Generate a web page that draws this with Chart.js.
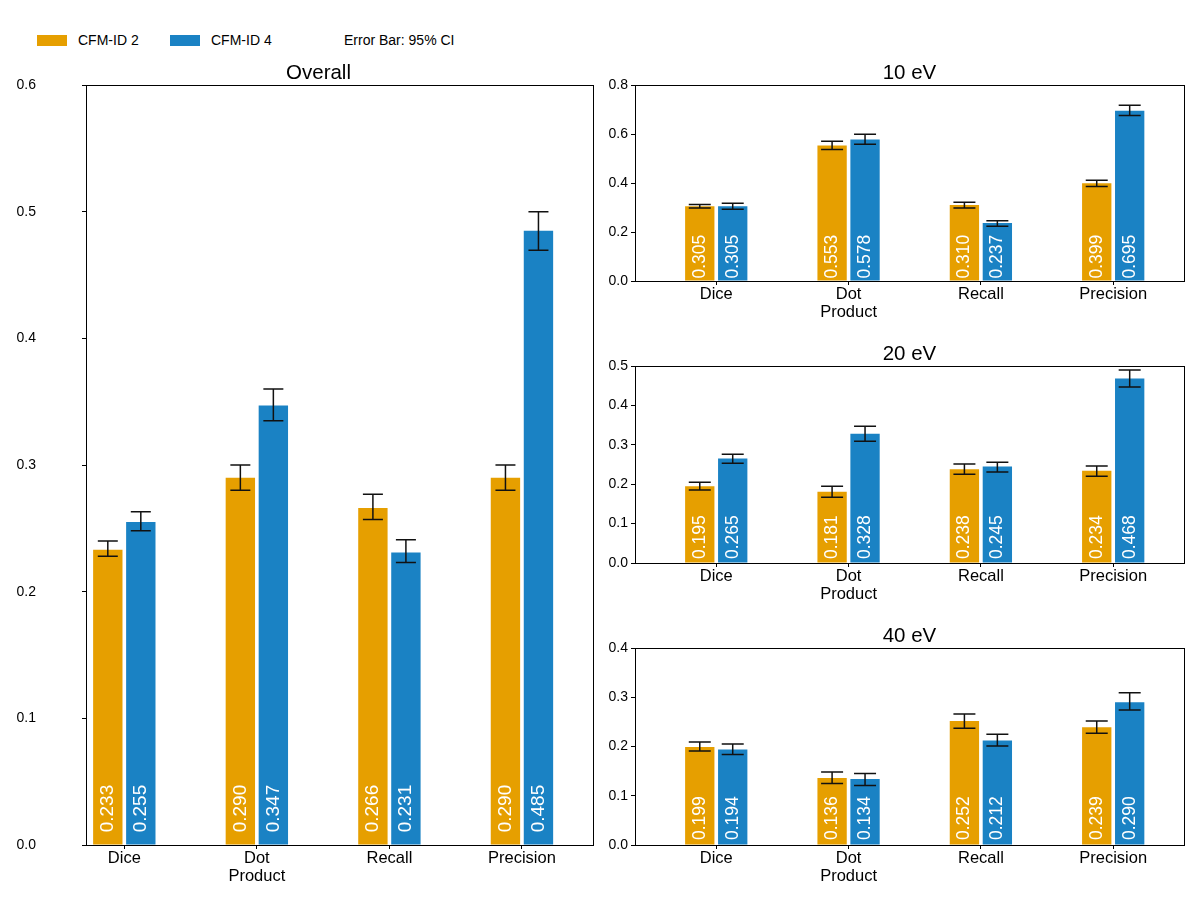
<!DOCTYPE html>
<html>
<head>
<meta charset="utf-8">
<script src="https://cdn.jsdelivr.net/npm/chart.js@4.4.1/dist/chart.umd.min.js"></script>
<style>
  html, body { margin: 0; padding: 0; background: #fff; }
  #wrap { position: relative; width: 1200px; height: 900px; overflow: hidden; font-family: "Liberation Sans", Arial, sans-serif; }
  canvas { position: absolute; }
  .lbox { position: absolute; width: 30px; height: 11px; }
  .ltxt { position: absolute; font-size: 14px; line-height: 16px; color: #000; white-space: nowrap; }
</style>
</head>
<body>
<div id="wrap">
  <div class="lbox" style="left:37px; top:35px; background:#E69F00;"></div>
  <div class="ltxt" style="left:78px; top:32px;">CFM-ID 2</div>
  <div class="lbox" style="left:170px; top:35px; background:#1A82C4;"></div>
  <div class="ltxt" style="left:211px; top:32px;">CFM-ID 4</div>
  <div class="ltxt" style="left:344px; top:32px;">Error Bar: 95% CI</div>
  <canvas id="cOverall" width="600" height="900" style="left:0px; top:0px;"></canvas>
  <canvas id="c10" width="600" height="336" style="left:600px; top:0px;"></canvas>
  <canvas id="c20" width="600" height="337" style="left:600px; top:281px;"></canvas>
  <canvas id="c40" width="600" height="337" style="left:600px; top:563px;"></canvas>
</div>
<script>
// ---- data ----
const categories = ["Dice", "Dot Product", "Recall", "Precision"];
const tickLabels = [["Dice"], ["Dot", "Product"], ["Recall"], ["Precision"]];
const seriesNames = ["CFM-ID 2", "CFM-ID 4"];

const overallCfm2   = [0.233, 0.290, 0.266, 0.290];
const overallCfm2Lo = [0.228, 0.280, 0.257, 0.280];
const overallCfm2Hi = [0.240, 0.300, 0.277, 0.300];
const overallCfm4   = [0.255, 0.347, 0.231, 0.485];
const overallCfm4Lo = [0.248, 0.335, 0.223, 0.4695];
const overallCfm4Hi = [0.263, 0.360, 0.241, 0.500];

const ev10Cfm2   = [0.305, 0.553, 0.310, 0.399];
const ev10Cfm2Lo = [0.298, 0.537, 0.298, 0.386];
const ev10Cfm2Hi = [0.312, 0.570, 0.321, 0.411];
const ev10Cfm4   = [0.305, 0.578, 0.237, 0.695];
const ev10Cfm4Lo = [0.2925, 0.558, 0.223, 0.676];
const ev10Cfm4Hi = [0.317, 0.599, 0.246, 0.717];

const ev20Cfm2   = [0.195, 0.181, 0.238, 0.234];
const ev20Cfm2Lo = [0.185, 0.167, 0.225, 0.220];
const ev20Cfm2Hi = [0.205, 0.195, 0.251, 0.246];
const ev20Cfm4   = [0.265, 0.328, 0.245, 0.468];
const ev20Cfm4Lo = [0.253, 0.309, 0.231, 0.447];
const ev20Cfm4Hi = [0.276, 0.347, 0.256, 0.490];

const ev40Cfm2   = [0.199, 0.136, 0.252, 0.239];
const ev40Cfm2Lo = [0.191, 0.125, 0.237, 0.227];
const ev40Cfm2Hi = [0.209, 0.148, 0.266, 0.252];
const ev40Cfm4   = [0.194, 0.134, 0.212, 0.290];
const ev40Cfm4Lo = [0.184, 0.121, 0.201, 0.274];
const ev40Cfm4Hi = [0.205, 0.145, 0.225, 0.309];

const overallTicks = [0, 0.1, 0.2, 0.3, 0.4, 0.5, 0.6];
const ev10Ticks = [0, 0.2, 0.4, 0.6, 0.8];
const ev20Ticks = [0, 0.1, 0.2, 0.3, 0.4, 0.5];
const ev40Ticks = [0, 0.1, 0.2, 0.3, 0.4];

// ---- styling ----
const COLORS = ["#E69F00", "#1A82C4"];
const FONT = '"Liberation Sans", Arial, sans-serif';
Chart.defaults.color = "#000";
Chart.defaults.font.family = FONT;

const extrasPlugin = {
  id: "extras",
  afterDatasetsDraw(chart) {
    const ctx = chart.ctx;
    const ys = chart.scales.y;
    const o = chart.options.plugins.extras;
    chart.data.datasets.forEach((ds, di) => {
      const meta = chart.getDatasetMeta(di);
      meta.data.forEach((bar, i) => {
        // value label
        ctx.save();
        ctx.translate(bar.x, ys.getPixelForValue(0.01));
        ctx.rotate(-Math.PI / 2);
        ctx.fillStyle = "#fff";
        ctx.font = o.labelSize + "px " + FONT;
        ctx.textAlign = "left";
        ctx.textBaseline = "middle";
        ctx.fillText(ds.data[i].y.toFixed(3), 0, 0);
        ctx.restore();
        // error bar
        const yl = ys.getPixelForValue(ds.errLo[i]);
        const yh = ys.getPixelForValue(ds.errHi[i]);
        ctx.save();
        ctx.strokeStyle = "#111";
        ctx.lineWidth = 1.5;
        ctx.beginPath();
        ctx.moveTo(bar.x, yl); ctx.lineTo(bar.x, yh);
        ctx.moveTo(bar.x - o.cap, yl); ctx.lineTo(bar.x + o.cap, yl);
        ctx.moveTo(bar.x - o.cap, yh); ctx.lineTo(bar.x + o.cap, yh);
        ctx.stroke();
        ctx.restore();
      });
    });
    // frame
    const a = chart.chartArea;
    ctx.save();
    ctx.strokeStyle = "#000";
    ctx.lineWidth = 1;
    const l = Math.floor(a.left) + 0.5, r = Math.floor(a.right) + 0.5;
    const t = Math.floor(a.top) + 0.5, b = Math.floor(a.bottom) + 0.5;
    ctx.strokeRect(l, t, r - l, b - t);
    // title
    ctx.fillStyle = "#000";
    ctx.font = "20.5px " + FONT;
    ctx.textAlign = "center";
    ctx.textBaseline = "alphabetic";
    ctx.fillText(o.title, (a.left + a.right) / 2 + o.titleDx, a.top - 6);
    ctx.restore();
  }
};

function makeChart(id, title, s2, lo2, hi2, s4, lo4, hi4, yTicks, xMin, xMax, yW, yPad, padRight, labelSize, cap, titleDx) {
  const ctx = document.getElementById(id).getContext("2d");
  return new Chart(ctx, {
    type: "bar",
    data: {
      datasets: [
        { label: seriesNames[0], data: s2.map((v, i) => ({ x: i, y: v })), errLo: lo2, errHi: hi2,
          backgroundColor: COLORS[0], borderWidth: 0 },
        { label: seriesNames[1], data: s4.map((v, i) => ({ x: i, y: v })), errLo: lo4, errHi: hi4,
          backgroundColor: COLORS[1], borderWidth: 0 }
      ]
    },
    options: {
      responsive: false,
      animation: false,
      devicePixelRatio: 1,
      categoryPercentage: 0.498,
      barPercentage: 0.89,
      layout: { padding: { top: 85, right: padRight, left: 0, bottom: 0 } },
      plugins: {
        legend: { display: false },
        tooltip: { enabled: false },
        title: { display: false },
        extras: { title: title, labelSize: labelSize, cap: cap, titleDx: titleDx }
      },
      scales: {
        x: {
          type: "linear",
          min: xMin, max: xMax,
          offset: false,
          border: { display: false },
          grid: { display: true, offset: false, drawOnChartArea: false, drawTicks: true, tickLength: 4, color: "#000", lineWidth: 1 },
          afterBuildTicks: (s) => { s.ticks = categories.map((c, i) => ({ value: i })); },
          ticks: {
            autoSkip: false, maxRotation: 0, minRotation: 0, padding: 1,
            font: { size: 16.5, lineHeight: 1.05 },
            color: "#000",
            callback: (v) => tickLabels[Math.round(v)]
          },
          afterFit: (s) => { s.height = 55; }
        },
        y: {
          min: yTicks[0], max: yTicks[yTicks.length - 1],
          border: { display: false },
          grid: { display: true, drawOnChartArea: false, drawTicks: true, tickLength: 4, color: "#000", lineWidth: 1 },
          afterBuildTicks: (s) => { s.ticks = yTicks.map(v => ({ value: v })); },
          ticks: { padding: yPad, font: { size: 14 }, color: "#000", callback: (v) => v.toFixed(1) },
          afterFit: (s) => { s.width = yW; }
        }
      }
    },
    plugins: [extrasPlugin]
  });
}

makeChart("cOverall", "Overall", overallCfm2, overallCfm2Lo, overallCfm2Hi, overallCfm4, overallCfm4Lo, overallCfm4Hi,
          overallTicks, -0.289, 3.536, 86, 46, 7, 19, 10, -21);
makeChart("c10", "10 eV", ev10Cfm2, ev10Cfm2Lo, ev10Cfm2Hi, ev10Cfm4, ev10Cfm4Lo, ev10Cfm4Hi,
          ev10Ticks, -0.614, 3.535, 35, 3, 16, 17.5, 11, 0);
makeChart("c20", "20 eV", ev20Cfm2, ev20Cfm2Lo, ev20Cfm2Hi, ev20Cfm4, ev20Cfm4Lo, ev20Cfm4Hi,
          ev20Ticks, -0.614, 3.535, 35, 3, 16, 17.5, 11, 0);
makeChart("c40", "40 eV", ev40Cfm2, ev40Cfm2Lo, ev40Cfm2Hi, ev40Cfm4, ev40Cfm4Lo, ev40Cfm4Hi,
          ev40Ticks, -0.614, 3.535, 35, 3, 16, 17.5, 11, 0);
</script>
</body>
</html>
